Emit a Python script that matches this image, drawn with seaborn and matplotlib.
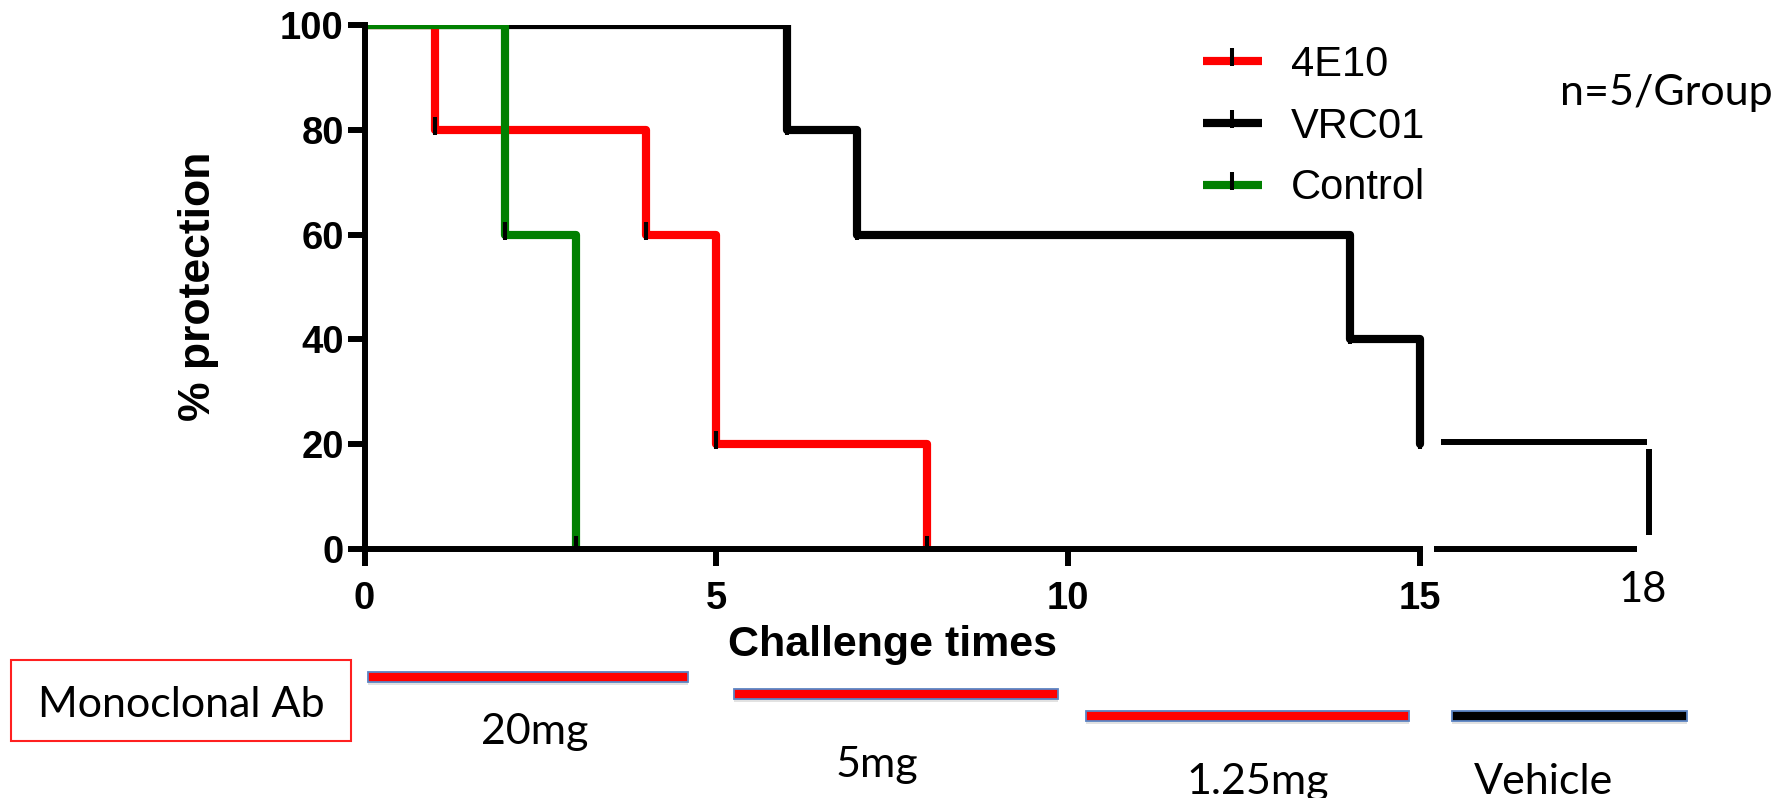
import numpy as np
import pandas as pd
import matplotlib
matplotlib.use("Agg")
import matplotlib.pyplot as plt
from matplotlib.lines import Line2D
from matplotlib.patches import Rectangle
import seaborn as sns

# ---------------- data ----------------
group_names = ["4E10", "VRC01", "Control"]
t_4e10 = [0, 1, 4, 5, 8]
s_4e10 = [100, 80, 60, 20, 0]
t_vrc01 = [0, 6, 7, 14, 15, 18]
s_vrc01 = [100, 80, 60, 40, 20, 0]
t_control = [0, 2, 3]
s_control = [100, 60, 0]
x_ticks = [0, 5, 10, 15]
y_ticks = [0, 20, 40, 60, 80, 100]
axis_break = 15
dose_labels = ["20mg", "5mg", "1.25mg", "Vehicle"]
dose_start = [0.05, 5.25, 10.25, 15.45]
dose_end = [4.6, 9.85, 14.85, 18.8]

# ---------------- style ----------------
W, H = 1786, 798
colors = {"4E10": "#ff0000", "VRC01": "#000000", "Control": "#008000"}
LW = 5.9       # data lines (pt)
AX_LW = 4.3    # axis lines (pt)
BOLD = "Liberation Sans"
CAL = "Lato"

sns.set_theme(style="ticks")
plt.rcParams["font.family"] = ["Liberation Sans", "DejaVu Sans"]
plt.rcParams["text.color"] = "black"
plt.rcParams["axes.labelcolor"] = "black"
plt.rcParams["xtick.color"] = "black"
plt.rcParams["ytick.color"] = "black"
plt.rcParams["axes.edgecolor"] = "black"


def fx(px):
    return px / W


def fy(py):
    return 1 - py / H


fig = plt.figure(figsize=(W / 100, H / 100), dpi=100)
x0_px, x15_px = 364.5, 1420.0
unit = (x15_px - x0_px) / 15
xmax = 19
ax = fig.add_axes([fx(x0_px), fy(549), xmax * unit / W, (549 - 25) / H])
ax.set_xlim(0, xmax)
ax.set_ylim(0, 100)

# main (pre-break) survival curves through seaborn
rows = []
for g, t, s in [("4E10", t_4e10, s_4e10), ("VRC01", t_vrc01, s_vrc01),
                ("Control", t_control, s_control)]:
    for ti, si in zip(t, s):
        if ti <= axis_break:
            rows.append({"group": g, "time": ti, "survival": si})
df = pd.DataFrame(rows)

sns.lineplot(data=df, x="time", y="survival", hue="group",
             hue_order=["VRC01", "4E10", "Control"], palette=colors,
             estimator=None, sort=False, drawstyle="steps-post",
             lw=LW, legend=False, ax=ax)

# censor tick marks (short black strokes rising from each step corner)
tick_marker = [(0, -0.35), (0, 1)]
for g, t, s in [("VRC01", t_vrc01, s_vrc01), ("4E10", t_4e10, s_4e10),
                ("Control", t_control, s_control)]:
    tt = [ti for ti in t[1:] if ti <= axis_break]
    ss = [si for ti, si in zip(t[1:], s[1:]) if ti <= axis_break]
    ax.plot(tt, ss, ls="none", marker=tick_marker, ms=18.7, mew=2.9,
            mec="black", mfc="black", zorder=4)

# post-break VRC01 segment (drawn with gaps like the broken axis)
gap = 0.3
shift = 0.22
ax.plot([axis_break + gap, t_vrc01[-1] + shift], [s_vrc01[-2] + 0.5] * 2,
        color="black", lw=AX_LW, solid_capstyle="butt", clip_on=False)
ax.plot([t_vrc01[-1] + shift + 0.03] * 2, [s_vrc01[-2] - 1, s_vrc01[-1] + 2.7],
        color="black", lw=AX_LW, solid_capstyle="butt", clip_on=False)
ax.plot([axis_break + 0.2, t_vrc01[-1] + 0.08], [0, 0],
        color="black", lw=AX_LW, solid_capstyle="butt", clip_on=False)

# axes styling
for side in ["top", "right"]:
    ax.spines[side].set_visible(False)
for side in ["left", "bottom"]:
    ax.spines[side].set_linewidth(AX_LW)
    ax.spines[side].set_color("black")
ax.spines["bottom"].set_bounds(0, axis_break)
ax.spines["left"].set_bounds(0, 100)
ax.set_xticks(x_ticks)
ax.set_yticks(y_ticks)
ax.set_xticklabels([str(v) for v in x_ticks])
ax.set_yticklabels([str(v) for v in y_ticks])
ax.tick_params(axis="both", length=12.2, width=AX_LW, color="black",
               labelsize=27.5, labelcolor="black")
ax.tick_params(axis="x", pad=11)
ax.tick_params(axis="y", pad=2.7)
for lab in ax.get_xticklabels() + ax.get_yticklabels():
    lab.set_fontweight("bold")
    lab.set_family(BOLD)
ax.patch.set_visible(False)

ax.set_xlabel("Challenge times", fontsize=31, fontweight="bold", family=BOLD,
              color="black")
ax.xaxis.label.set_va("baseline")
ax.xaxis.set_label_coords(fx(892), fy(655.7), transform=fig.transFigure)
ax.set_ylabel("% protection", fontsize=32, fontweight="bold", family=BOLD,
              color="black")
ax.yaxis.label.set_va("baseline")
ax.yaxis.set_label_coords(fx(210), fy(286.7), transform=fig.transFigure)

# label for the extended axis end
ax.text(t_vrc01[-1] + 0.16, (549 - 601.7) / 524 * 100, str(t_vrc01[-1]),
        ha="center", va="baseline", fontsize=30, family=CAL, clip_on=False,
        color="black", transform=ax.transData)

# legend
handles = [Line2D([0], [0], color=colors[g], lw=LW, marker=tick_marker,
                  ms=18.7, mew=2.9, mec="black", mfc="black",
                  solid_capstyle="butt")
           for g in group_names]
leg = fig.legend(handles, group_names, loc="upper left",
                 bbox_to_anchor=(fx(1203), fy(45)), frameon=False,
                 borderpad=0, borderaxespad=0, handlelength=1.41,
                 handletextpad=0.7, labelspacing=0.52, numpoints=1,
                 prop={"family": "Liberation Sans", "size": 30},
                 labelcolor="black")

fig.text(fx(1773), fy(105), "n=5/Group", ha="right", va="baseline",
         fontsize=31, family=CAL, color="black")

# ---------------- dose schedule under the axis ----------------
ax2 = fig.add_axes([fx(x0_px), 0, xmax * unit / W, 1])
ax2.set_xlim(0, xmax)
ax2.set_ylim(H, 0)
ax2.axis("off")
bar_y = [677, 694, 716, 716]
label_x = [2.42, 7.28, 12.7, 16.75]
label_base = [744, 777, 794, 794]
bar_fill = ["#ff0000", "#ff0000", "#ff0000", "#000000"]
for i, lab in enumerate(dose_labels):
    ax2.add_patch(Rectangle((dose_start[i], bar_y[i] - 2), dose_end[i] - dose_start[i],
                            10, fc="#d0d0d0", ec="none", alpha=0.6))
    ax2.add_patch(Rectangle((dose_start[i], bar_y[i] - 5), dose_end[i] - dose_start[i],
                            10, fc=bar_fill[i], ec="#5b84c4", lw=1.3))
    ax2.text(label_x[i], label_base[i], lab, ha="center", va="baseline",
             fontsize=31, family=CAL, color="black")

fig.patches.append(Rectangle((fx(11), fy(741)), fx(351) - fx(11), fy(660) - fy(741),
                             transform=fig.transFigure, fc="white", ec="#ff2020",
                             lw=1.5, figure=fig))
fig.text(fx(181), fy(717), "Monoclonal Ab", ha="center", va="baseline",
         fontsize=31, family=CAL, color="black")

fig.savefig("out.png", dpi=100, facecolor="white")
